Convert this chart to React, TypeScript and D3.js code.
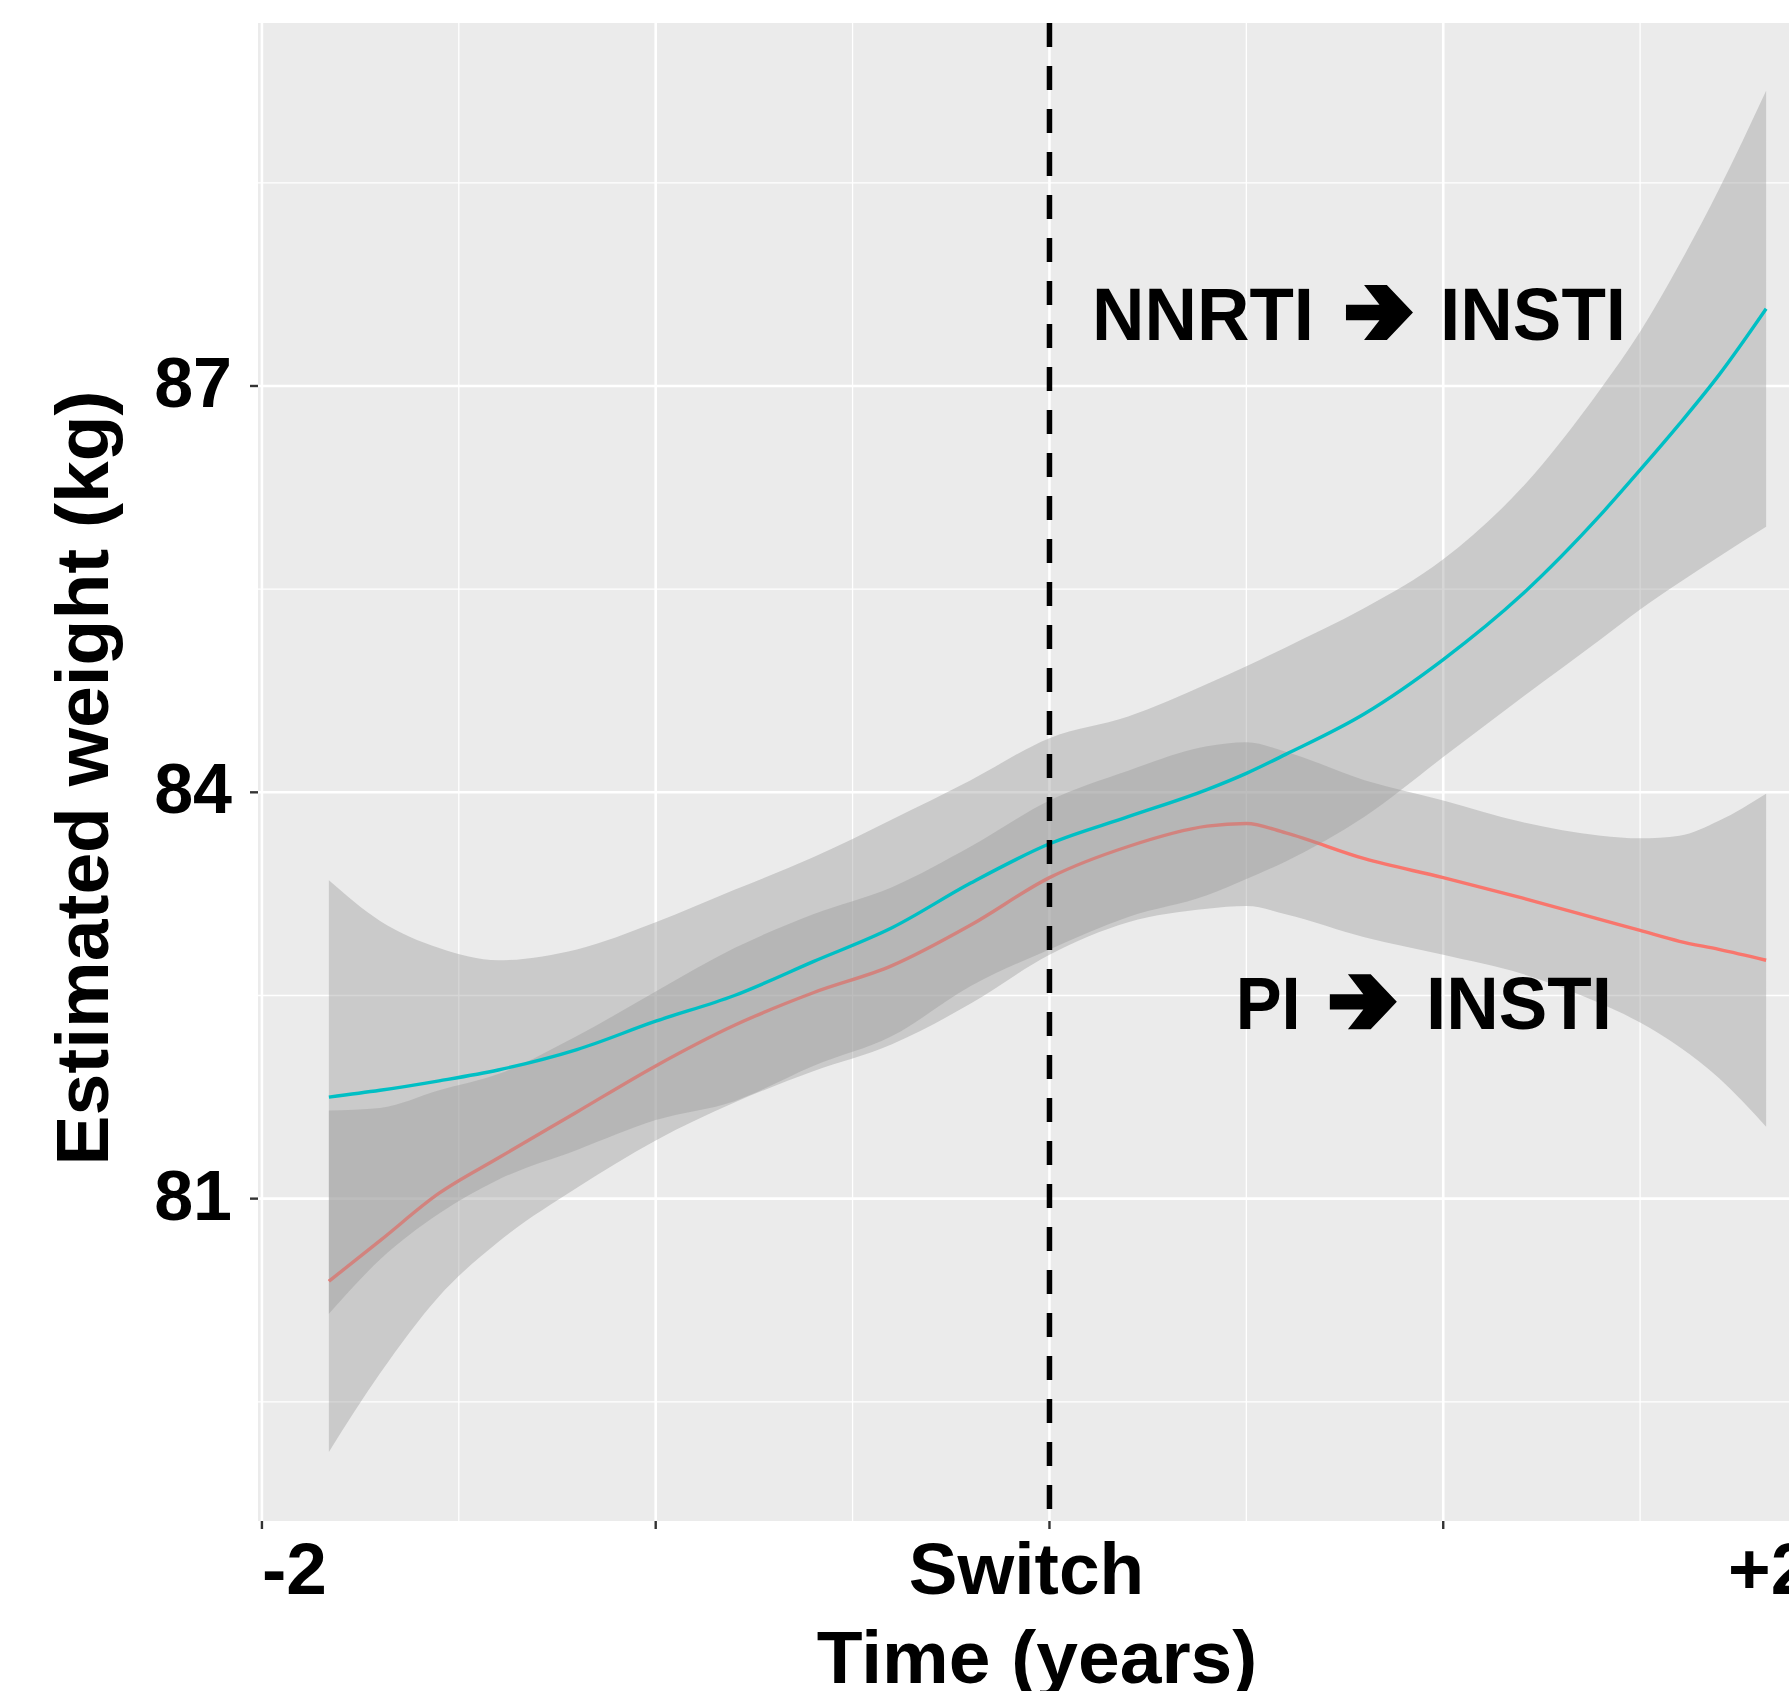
import React from 'react';
import * as d3 from 'd3';

// ---- data ----
const timeGrid = [-1.83, -1.7, -1.55, -1.4, -1.2, -1.0, -0.8, -0.6, -0.4, -0.2, 0, 0.2, 0.4, 0.5, 0.6, 0.8, 1.0, 1.2, 1.4, 1.5, 1.6, 1.7, 1.82];

const nnrtiFit = [81.75, 81.80, 81.87, 81.95, 82.10, 82.31, 82.50, 82.75, 83.00, 83.33, 83.62, 83.82, 84.02, 84.14, 84.28, 84.58, 84.98, 85.46, 86.05, 86.38, 86.72, 87.08, 87.57];
const nnrtiLower = [80.15, 80.55, 80.89, 81.14, 81.36, 81.58, 81.72, 81.98, 82.20, 82.57, 82.84, 83.08, 83.24, 83.36, 83.49, 83.82, 84.26, 84.70, 85.13, 85.35, 85.55, 85.74, 85.96];
const nnrtiUpper = [83.35, 83.05, 82.85, 82.76, 82.84, 83.04, 83.28, 83.52, 83.80, 84.09, 84.40, 84.56, 84.80, 84.93, 85.07, 85.36, 85.72, 86.25, 86.98, 87.40, 87.90, 88.45, 89.18];

const piFit = [80.39, 80.69, 81.04, 81.30, 81.64, 81.98, 82.28, 82.52, 82.72, 83.02, 83.37, 83.60, 83.75, 83.77, 83.70, 83.51, 83.37, 83.22, 83.06, 82.98, 82.90, 82.84, 82.76];
const piLower = [79.13, 79.71, 80.28, 80.68, 81.08, 81.43, 81.71, 81.94, 82.14, 82.44, 82.80, 83.04, 83.14, 83.16, 83.10, 82.93, 82.80, 82.66, 82.44, 82.30, 82.12, 81.89, 81.53];
const piUpper = [81.65, 81.67, 81.80, 81.92, 82.20, 82.53, 82.85, 83.10, 83.30, 83.60, 83.94, 84.16, 84.34, 84.37, 84.30, 84.09, 83.94, 83.78, 83.68, 83.66, 83.68, 83.79, 83.99];

const xMajorTicks = [-2, -1, 0, 1, 2];
const xTickLabels = ['-2', '', 'Switch', '', '+2'];
const xMinorTicks = [-1.5, -0.5, 0.5, 1.5];
const yMajorTicks = [81, 84, 87];
const yMinorTicks = [79.5, 82.5, 85.5, 88.5];

// annotation labels: [first word, second word, x of first word, x of arrow, x of second word, baseline y] in data units
const annotationWords = [
  ['NNRTI', 'INSTI'],
  ['PI', 'INSTI'],
];
const annotationX = [
  [0.108, 0.753, 0.992],
  [0.473, 0.712, 0.956],
];
const annotationY = [87.34, 82.25];
const annotationWidths = [
  [222, 186],
  [65, 186],
];

// normalized heavy chevron-headed arrow outline (unit box)
const arrowShape: [number, number][] = [
  [0, 0.36], [0.5, 0.36], [0.27, 0], [0.61, 0], [1, 0.5], [0.61, 1], [0.27, 1], [0.5, 0.64], [0, 0.64],
];

const W = 1789;
const H = 1691;
const FONT = "'Liberation Sans', Arial, Helvetica, sans-serif";

export default function App() {
  const panel = { left: 258, right: 1837, top: 23, bottom: 1521 };
  const x = d3.scaleLinear().domain([-2.01, 2.0]).range([panel.left, panel.right]);
  const y = d3.scaleLinear().domain([78.62, 89.68]).range([panel.bottom, panel.top]);

  const makeRows = (fit: number[], lo: number[], hi: number[]) =>
    timeGrid.map((t, i) => ({ t, fit: fit[i], lo: lo[i], hi: hi[i] }));
  const pi = makeRows(piFit, piLower, piUpper);
  const nn = makeRows(nnrtiFit, nnrtiLower, nnrtiUpper);

  const area = d3
    .area<any>()
    .x((d) => x(d.t))
    .y0((d) => y(d.lo))
    .y1((d) => y(d.hi))
    .curve(d3.curveMonotoneX);
  const line = d3
    .line<any>()
    .x((d) => x(d.t))
    .y((d) => y(d.fit))
    .curve(d3.curveMonotoneX);

  const bigFont = 74;
  const arrowW = 67;
  const arrowH = 55;
  const arrowPath = (x0: number, baseline: number) => {
    const ax = d3.scaleLinear().domain([0, 1]).range([x0, x0 + arrowW]);
    const ay = d3.scaleLinear().domain([0, 1]).range([baseline - arrowH, baseline]);
    const gen = d3.line<[number, number]>().x((p) => ax(p[0])).y((p) => ay(p[1]));
    return (gen(arrowShape) || '') + 'Z';
  };

  return (
    <svg
      width={W}
      height={H}
      viewBox={`0 0 ${W} ${H}`}
      style={{ position: 'absolute', left: 0, top: 0, display: 'block', background: '#ffffff' }}
    >
      <defs>
        <clipPath id="panelClip">
          <rect x={panel.left} y={panel.top} width={panel.right - panel.left} height={panel.bottom - panel.top} />
        </clipPath>
      </defs>
      <rect x={0} y={0} width={W} height={H} fill="#ffffff" />
      {/* panel background */}
      <rect x={panel.left} y={panel.top} width={panel.right - panel.left} height={panel.bottom - panel.top} fill="#EBEBEB" />
      {/* minor grid */}
      {xMinorTicks.map((v) => (
        <line key={'xm' + v} x1={x(v)} x2={x(v)} y1={panel.top} y2={panel.bottom} stroke="#ffffff" strokeWidth={1.3} />
      ))}
      {yMinorTicks.map((v) => (
        <line key={'ym' + v} x1={panel.left} x2={panel.right} y1={y(v)} y2={y(v)} stroke="#ffffff" strokeWidth={1.3} />
      ))}
      {/* major grid */}
      {xMajorTicks.map((v) => (
        <line key={'xM' + v} x1={x(v)} x2={x(v)} y1={panel.top} y2={panel.bottom} stroke="#ffffff" strokeWidth={2.6} />
      ))}
      {yMajorTicks.map((v) => (
        <line key={'yM' + v} x1={panel.left} x2={panel.right} y1={y(v)} y2={y(v)} stroke="#ffffff" strokeWidth={2.6} />
      ))}

      <g clipPath="url(#panelClip)">
        {/* PI -> INSTI (first group) */}
        <path d={area(pi) || ''} fill="#999999" fillOpacity={0.4} />
        <path d={line(pi) || ''} fill="none" stroke="#F8766D" strokeWidth={3.4} />
        {/* NNRTI -> INSTI (second group) */}
        <path d={area(nn) || ''} fill="#999999" fillOpacity={0.4} />
        <path d={line(nn) || ''} fill="none" stroke="#00BFC4" strokeWidth={3.4} />
        {/* switch line */}
        <line
          x1={x(0)}
          x2={x(0)}
          y1={panel.top}
          y2={panel.bottom}
          stroke="#000000"
          strokeWidth={5.5}
          strokeDasharray="24 19"
        />
      </g>

      {/* annotations */}
      <g fontFamily={FONT} fontWeight="bold" fill="#000000" fontSize={bigFont}>
        {annotationWords.map((words, i) => {
          const base = y(annotationY[i]);
          return (
            <g key={'ann' + i}>
              <text x={x(annotationX[i][0])} y={base} textLength={annotationWidths[i][0]} lengthAdjust="spacingAndGlyphs">
                {words[0]}
              </text>
              <path d={arrowPath(x(annotationX[i][1]), base)} fill="#000000" />
              <text x={x(annotationX[i][2])} y={base} textLength={annotationWidths[i][1]} lengthAdjust="spacingAndGlyphs">
                {words[1]}
              </text>
            </g>
          );
        })}
      </g>

      {/* y axis */}
      {yMajorTicks.map((v) => (
        <g key={'yt' + v}>
          <line x1={panel.left - 8} x2={panel.left} y1={y(v)} y2={y(v)} stroke="#333333" strokeWidth={2.4} />
          <text
            x={panel.left - 26}
            y={y(v) + 21}
            textAnchor="end"
            fontFamily={FONT}
            fontWeight="bold"
            fontSize={70}
            fill="#000000"
          >
            {v}
          </text>
        </g>
      ))}
      {/* x axis */}
      {xMajorTicks.map((v) => (
        <line key={'xt' + v} x1={x(v)} x2={x(v)} y1={panel.bottom} y2={panel.bottom + 8} stroke="#333333" strokeWidth={2.4} />
      ))}
      <g fontFamily={FONT} fontWeight="bold" fontSize={73} fill="#000000">
        <text x={x(-2)} y={1594} textAnchor="start">{xTickLabels[0]}</text>
        <text x={x(0) - 23} y={1594} textAnchor="middle">{xTickLabels[2]}</text>
        <text x={x(2) - 109} y={1594} textAnchor="start">{xTickLabels[4]}</text>
      </g>

      {/* axis titles */}
      <text x={1037} y={1683} textAnchor="middle" fontFamily={FONT} fontWeight="bold" fontSize={75} fill="#000000">
        Time (years)
      </text>
      <text
        transform={`translate(108, 778) rotate(-90)`}
        textAnchor="middle"
        fontFamily={FONT}
        fontWeight="bold"
        fontSize={75}
        fill="#000000"
      >
        Estimated weight (kg)
      </text>
    </svg>
  );
}
